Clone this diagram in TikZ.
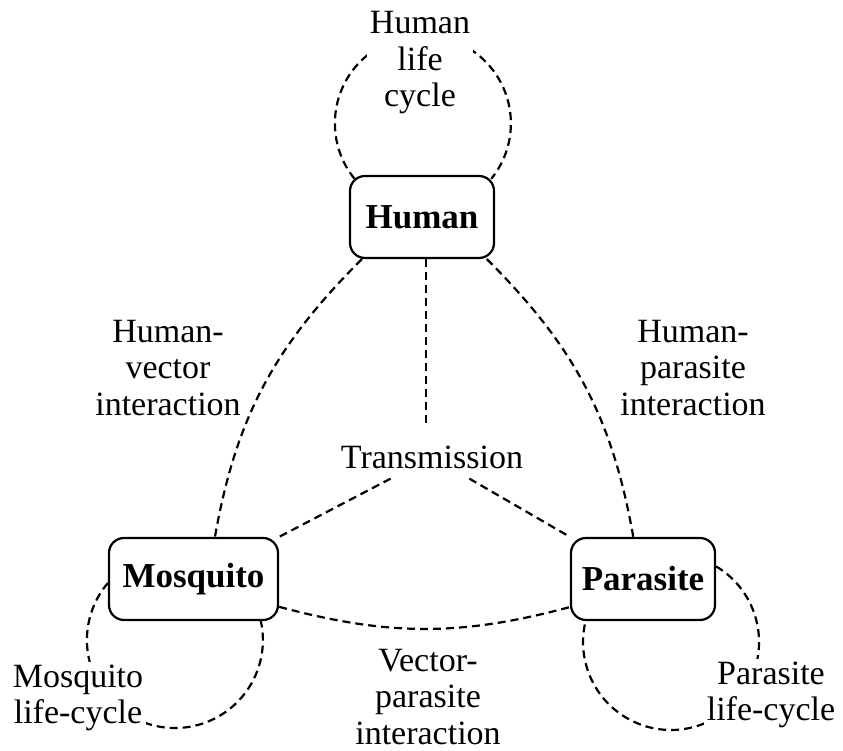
\documentclass[tikz,border=0pt]{standalone}
\usepackage{fontspec}
\setmainfont{Liberation Serif}
\usetikzlibrary{backgrounds,calc}
\begin{document}
\begin{tikzpicture}[x=1pt,y=1pt,
  entity/.style={draw, line width=2.2pt, rounded corners=15pt, fill=white,
    font=\fontsize{35}{40}\selectfont\bfseries, minimum height=82pt, inner sep=0pt},
  lbl/.style={fill=white, align=center, inner sep=3pt,
    font=\fontsize{34}{36.5}\selectfont},
  link/.style={line width=2.2pt, dash pattern=on 8pt off 5pt}
]
\useasboundingbox (0,0) rectangle (843,751);

% the three actors
\node[entity, minimum width=144pt] (human)    at (422,534)   {Human};
\node[entity, minimum width=169pt] (mosquito) at (193.5,172) {Mosquito};
\node[entity, minimum width=144pt] (parasite) at (643,172)   {Parasite};

% labels of the relations
\node[lbl] (hlc)   at (420,688) {Human\\life\\cycle};
\node[lbl] (hv)    at (168,383) {Human-\\vector\\interaction};
\node[lbl] (hp)    at (693,383) {Human-\\parasite\\interaction};
\node[lbl, inner xsep=3pt, inner ysep=10pt] (trans) at (432,294) {Transmission};
\node[lbl] (vp)    at (428,54)  {Vector-\\parasite\\interaction};
\node[lbl] (mlc)   at (78,53)   {Mosquito\\life-cycle};
\node[lbl] (plc)   at (771,56)  {Parasite\\life-cycle};

\begin{pgfonlayer}{background}
  \fill[white] (0,0) rectangle (843,751);
  % pairwise interactions
  \draw[link] (human.-145) to[out=225, in=80] (mosquito.63);
  \draw[link] (human.-33)  to[out=-45, in=100] (parasite.103);
  \draw[link] (mosquito.-18) to[out=-15, in=195] (parasite.201);
  % transmission involves all three
  \draw[link, shorten >=9pt] ([xshift=4pt]human.south) -- ([xshift=4pt]human.south |- trans.north);
  \draw[link] (trans) -- (mosquito.north east);
  \draw[link] (trans) -- (parasite.north west);
  % life cycles
  \draw[link] ($(human.north west)+(5.6,-3.9)$) arc[start angle=219, end angle=-39, radius=88];
  \draw[link] ($(mosquito.west)+(0,-4)$) arc[start angle=139.6, end angle=373.1, radius=88];
  \draw[link] ($(parasite.east)+(0,12.6)$) arc[start angle=59.2, end angle=-194.5, radius=88];
\end{pgfonlayer}
\end{tikzpicture}
\end{document}
